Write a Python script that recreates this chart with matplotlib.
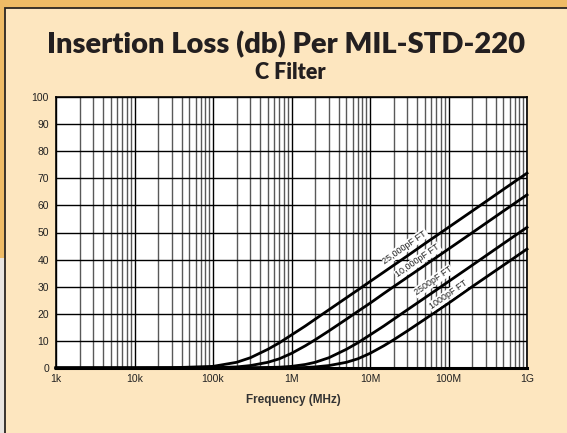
import matplotlib
matplotlib.use("Agg")
import matplotlib.pyplot as plt
from matplotlib.patches import Rectangle
from matplotlib.ticker import LogLocator, FixedLocator, NullFormatter

# ---- data ----
freq_hz = [1e3, 1e4, 3e4, 1e5, 2e5, 3e5, 5e5, 7e5, 1e6, 1.5e6, 2e6, 3e6, 5e6, 7e6,
           1e7, 1.5e7, 2e7, 3e7, 5e7, 7e7, 1e8, 2e8, 5e8, 1e9]
il_25000pf = [0.0, 0.0, 0.1, 0.6, 2.1, 3.8, 6.9, 9.3, 12.2, 15.5, 18.0, 21.5, 25.9, 28.8,
              31.9, 35.4, 37.9, 41.4, 45.9, 48.8, 51.9, 57.9, 65.9, 71.9]
il_10000pf = [0.0, 0.0, 0.0, 0.1, 0.4, 0.9, 2.1, 3.4, 5.4, 8.2, 10.4, 13.7, 18.0, 20.9,
              23.9, 27.5, 30.0, 33.5, 37.9, 40.8, 43.9, 49.9, 57.9, 63.9]
il_2500pf = [0.0, 0.0, 0.0, 0.0, 0.0, 0.1, 0.2, 0.3, 0.6, 1.3, 2.1, 3.8, 6.9, 9.3,
             12.2, 15.5, 18.0, 21.5, 25.9, 28.8, 31.9, 37.9, 45.9, 51.9]
il_1000pf = [0.0, 0.0, 0.0, 0.0, 0.0, 0.0, 0.0, 0.1, 0.1, 0.2, 0.4, 0.9, 2.1, 3.4,
             5.4, 8.2, 10.4, 13.7, 18.0, 20.9, 23.9, 30.0, 37.9, 43.9]
series_labels = ["25,000pF FT", "10,000pF FT", "2500pF FT", "1000pF FT"]
label_freq = [2.79e7, 4.08e7, 6.35e7, 9.86e7]
label_db = [44.6, 39.5, 32.1, 26.9]
x_ticks = [1e3, 1e4, 1e5, 1e6, 1e7, 1e8, 1e9]
x_tick_labels = ["1k", "10k", "100k", "1M", "10M", "100M", "1G"]
y_ticks = [0, 10, 20, 30, 40, 50, 60, 70, 80, 90, 100]

W, H = 567, 433
fig = plt.figure(figsize=(W / 100, H / 100), dpi=100)
fig.patch.set_facecolor("#eebb66")

# background: left lower strip grey, panel cream with dark border
fig.add_artist(Rectangle((0, 0), 5 / W, 1 - 258 / H, transform=fig.transFigure,
                         facecolor="#e9e5e1", edgecolor="none", zorder=0))
fig.add_artist(Rectangle((4.5 / W, -0.01), 1.0, 1 - 7.5 / H + 0.01, transform=fig.transFigure,
                         facecolor="#fde6bf", edgecolor="#2a2622", linewidth=1.3, zorder=0))

fig.text(286 / W, 1 - 53 / H, "Insertion Loss (db) Per MIL-STD-220", ha="center",
         va="baseline", fontsize=21, fontweight="heavy", family="Lato", color="#231f20")
fig.text(290 / W, 1 - 79 / H, "C Filter", ha="center", va="baseline",
         fontsize=15.5, fontweight="heavy", family="Lato", color="#231f20")

ax = fig.add_axes([56 / W, 1 - 368 / H, 471 / W, 271 / H])
ax.set_facecolor("white")
ax.set_xscale("log")
ax.set_xlim(1e3, 1e9)
ax.set_ylim(0, 100)

ax.xaxis.set_major_locator(FixedLocator(x_ticks))
ax.set_xticklabels(x_tick_labels)
ax.xaxis.set_minor_locator(LogLocator(base=10, subs=[2, 3, 4, 5, 6, 7, 8, 9], numticks=20))
ax.xaxis.set_minor_formatter(NullFormatter())
ax.set_yticks(y_ticks)

ax.grid(which="major", axis="both", color="black", linewidth=1.0, zorder=1)
ax.grid(which="minor", axis="x", color="0.35", linewidth=1.0, zorder=1)
ax.tick_params(which="both", length=0)
ax.tick_params(axis="x", pad=4, labelsize=7.5)
ax.tick_params(axis="y", pad=5, labelsize=7.5)
for lab in ax.get_xticklabels() + ax.get_yticklabels():
    lab.set_family("Liberation Sans")
    lab.set_color("#222222")

for s in ax.spines.values():
    s.set_linewidth(1.2)
    s.set_color("black")
ax.spines["bottom"].set_linewidth(2.2)

for ys in (il_25000pf, il_10000pf, il_2500pf, il_1000pf):
    ax.plot(freq_hz, ys, color="black", linewidth=2.0, zorder=3, clip_on=False)

for txt, fx, fy in zip(series_labels, label_freq, label_db):
    ax.text(fx, fy, txt, rotation=35, rotation_mode="anchor", ha="center", va="center",
            fontsize=6.5, family="Liberation Sans", color="#222222", zorder=4,
            bbox=dict(facecolor="white", edgecolor="none", pad=0.6))

fig.text(293 / W, 1 - 400 / H, "Frequency (MHz)", ha="center", va="center",
         fontsize=8.5, fontweight="bold", family="Liberation Sans", color="#333333")

fig.savefig("out.png", dpi=100, facecolor=fig.get_facecolor())
